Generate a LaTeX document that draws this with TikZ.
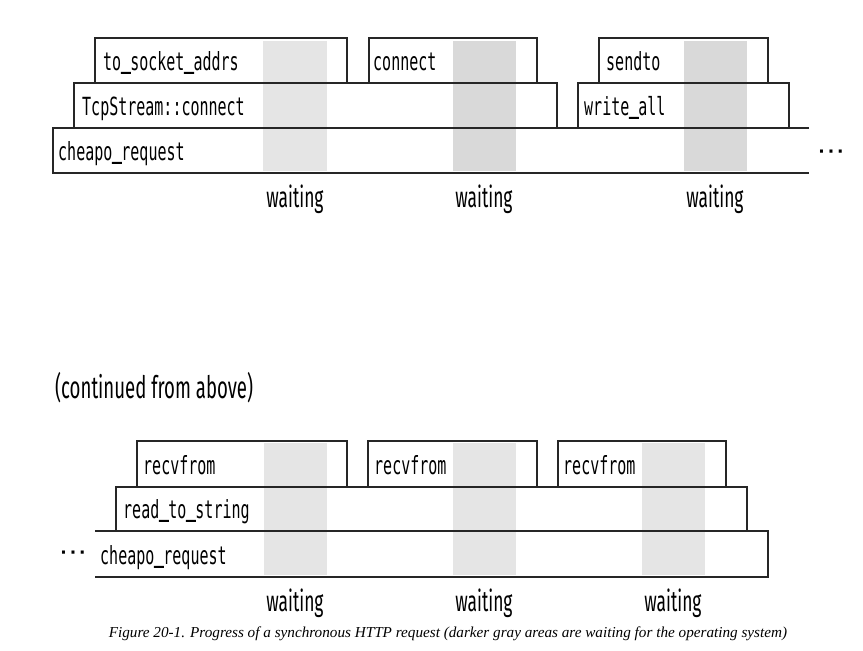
\documentclass[tikz,border=0pt]{standalone}
\usepackage{fontspec}
\setmainfont{Liberation Serif}
\newfontfamily\codefont[FakeStretch=0.6]{DejaVu Sans Mono}
\newfontfamily\usfont[FakeStretch=0.6,FakeBold=4]{DejaVu Sans Mono}
\newfontfamily\waitfont[FakeStretch=0.6]{Fira Sans}
\newfontfamily\dotfont{DejaVu Sans}
\newcommand\us{\raisebox{2.5pt}{\usfont\char"5F\relax}}
\usetikzlibrary{positioning}
\tikzset{
    calltext/.style = {font=\codefont\fontsize{25}{28}\selectfont, anchor=base west, inner sep=0pt},
    waittext/.style = {font=\waitfont\fontsize{29}{32}\selectfont, anchor=base, inner sep=0pt},
    dottext/.style = {font=\dotfont\bfseries\fontsize{17}{20}\selectfont, anchor=base, inner sep=0pt},
    captext/.style = {font=\itshape\fontsize{15.2}{17}\selectfont, anchor=base, inner sep=0pt},
    callbox/.style = {line width=1.3pt, draw=black!85},
    lightwait/.style = {fill=black!10},
    darkwait/.style = {fill=black!15}
}

\begin{document}
\begin{tikzpicture}[x=1pt,y=-1pt]
                \useasboundingbox (0,0) rectangle (863,651);

                % waiting bands, first part
                \fill[lightwait] (263,41) rectangle (327,171);
                \fill[darkwait] (453,41) rectangle (516,171);
                \fill[darkwait] (684,41) rectangle (747,171);

                % system calls
                \draw[callbox] (95,83) |- (347,38) -- (347,83);
                \draw[callbox] (369,83) |- (537,38) -- (537,83);
                \draw[callbox] (599,83) |- (768,38) -- (768,83);

                % library calls
                \draw[callbox] (74,128) |- (557,83) -- (557,128);
                \draw[callbox] (578,128) |- (789,83) -- (789,128);

                % cheapo_request
                \draw[callbox] (809,128) -- (53,128) -- (53,173) -- (809,173);

                \node[calltext] (tosocket) at (95+8,83-13) {to\us socket\us addrs};
                \node[calltext] (connect) at (369+4,83-13) {connect};
                \node[calltext] (sendto) at (599+7,83-13) {sendto};
                \node[calltext] (tcpconnect) at (74+8,128-13) {TcpStream::connect};
                \node[calltext] (writeall) at (578+6,128-13) {write\us all};
                \node[calltext] (cheapoa) at (53+5,173-13) {cheapo\us request};
                \node[dottext] (morea) at (831,157) {·\,·\,·};

                \node[waittext] (waita) at (295,207) {waiting};
                \node[waittext] (waitb) at (484,207) {waiting};
                \node[waittext] (waitc) at (715,207) {waiting};

                % second part
                \node[waittext, anchor=base west, font=\waitfont\fontsize{31}{34}\selectfont] (continued) at (55,398) {(continued from above)};

                \fill[lightwait] (264,443) rectangle (327,575);
                \fill[lightwait] (453,443) rectangle (516,575);
                \fill[lightwait] (642,443) rectangle (705,575);

                \draw[callbox] (137,487) |- (347,441) -- (347,487);
                \draw[callbox] (368,487) |- (537,441) -- (537,487);
                \draw[callbox] (558,487) |- (726,441) -- (726,487);

                \draw[callbox] (116,531) |- (747,487) -- (747,531);

                \draw[callbox] (95,531) -- (768,531) -- (768,577) -- (95,577);

                \node[calltext] (recva) at (137+6,487-13) {recvfrom};
                \node[calltext] (recvb) at (368+6,487-13) {recvfrom};
                \node[calltext] (recvc) at (558+5,487-13) {recvfrom};
                \node[calltext] (readstr) at (116+7,531-13) {read\us to\us string};
                \node[calltext] (cheapob) at (95+5,577-13) {cheapo\us request};
                \node[dottext] (moreb) at (73,558) {·\,·\,·};

                \node[waittext] (waitd) at (295,611) {waiting};
                \node[waittext] (waite) at (484,611) {waiting};
                \node[waittext] (waitf) at (673,611) {waiting};

                \node[captext] (caption) at (448,637) {Figure 20-1. Progress of a synchronous HTTP request (darker gray areas are waiting for the operating system)};
\end{tikzpicture}
\end{document}
